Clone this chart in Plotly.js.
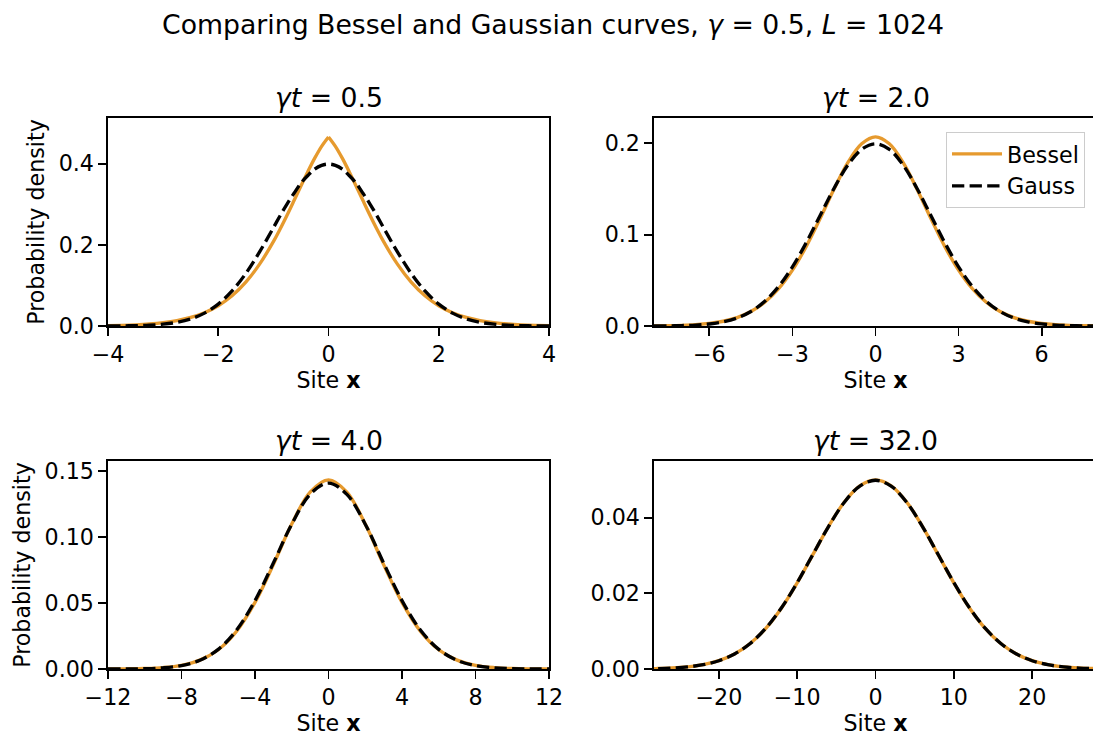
<!DOCTYPE html>
<html>
<head>
<meta charset="utf-8">
<script src="https://cdn.plot.ly/plotly-3.0.1.min.js"></script>
<style>
html, body { margin: 0; padding: 0; overflow: hidden; background: #fff; }
#chart { width: 1100px; height: 736px; }
</style>
</head>
<body>
<div id="chart"></div>
<script>
// ---- Data ----
const subplotTitles = ["<i>γt</i> = 0.5", "<i>γt</i> = 2.0", "<i>γt</i> = 4.0", "<i>γt</i> = 32.0"];

// γt = 0.5
const x1 = [-4,-3.75,-3.5,-3.25,-3,-2.75,-2.5,-2.25,-2,-1.75,-1.5,-1.25,-1,-0.875,-0.75,-0.625,-0.5,-0.375,-0.25,-0.125,0,
            0.125,0.25,0.375,0.5,0.625,0.75,0.875,1,1.25,1.5,1.75,2,2.25,2.5,2.75,3,3.25,3.5,3.75,4];
const bessel1 = [0.00101,0.00174,0.00295,0.00495,0.00816,0.01321,0.02101,0.03274,0.04994,0.07439,0.10798,0.15228,0.20791,0.23968,0.27359,0.30898,0.34495,0.38028,0.41344,0.44263,0.46576,
                 0.44263,0.41344,0.38028,0.34495,0.30898,0.27359,0.23968,0.20791,0.15228,0.10798,0.07439,0.04994,0.03274,0.02101,0.01321,0.00816,0.00495,0.00295,0.00174,0.00101];
const gauss1 = [0.00013,0.00035,0.00087,0.00203,0.00443,0.00909,0.01753,0.03174,0.05399,0.08628,0.12952,0.18265,0.24197,0.27245,0.30114,0.32713,0.35207,0.37073,0.38667,0.39585,0.39894,
                0.39585,0.38667,0.37073,0.35207,0.32713,0.30114,0.27245,0.24197,0.18265,0.12952,0.08628,0.05399,0.03174,0.01753,0.00909,0.00443,0.00203,0.00087,0.00035,0.00013];

// γt = 2.0
const x2 = [-8,-7.5,-7,-6.5,-6,-5.5,-5,-4.5,-4,-3.5,-3,-2.5,-2,-1.5,-1,-0.5,0,
            0.5,1,1.5,2,2.5,3,3.5,4,4.5,5,5.5,6,6.5,7,7.5,8];
const bessel2 = [0.00018,0.00037,0.00076,0.00149,0.00283,0.00520,0.00924,0.01580,0.02594,0.04076,0.06112,0.08714,0.11763,0.14969,0.17875,0.19940,0.20700,
                 0.19940,0.17875,0.14969,0.11763,0.08714,0.06112,0.04076,0.02594,0.01580,0.00924,0.00520,0.00283,0.00149,0.00076,0.00037,0.00018];
const gauss2 = [0.00007,0.00018,0.00044,0.00101,0.00222,0.00455,0.00876,0.01587,0.02700,0.04314,0.06476,0.09133,0.12099,0.15057,0.17603,0.19333,0.19947,
                0.19333,0.17603,0.15057,0.12099,0.09133,0.06476,0.04314,0.02700,0.01587,0.00876,0.00455,0.00222,0.00101,0.00044,0.00018,0.00007];

// γt = 4.0
const x3 = [-12,-11,-10,-9,-8,-7,-6,-5,-4,-3,-2,-1,0,1,2,3,4,5,6,7,8,9,10,11,12];
const bessel3 = [0.00004,0.00013,0.00038,0.00109,0.00283,0.00674,0.01463,0.02869,0.05050,0.07919,0.10990,0.13414,0.14343,
                 0.13414,0.10990,0.07919,0.05050,0.02869,0.01463,0.00674,0.00283,0.00109,0.00038,0.00013,0.00004];
const gauss3 = [0.00002,0.00007,0.00027,0.00089,0.00258,0.00660,0.01487,0.02957,0.05189,0.08037,0.10985,0.13250,0.14105,
                0.13250,0.10985,0.08037,0.05189,0.02957,0.01487,0.00660,0.00258,0.00089,0.00027,0.00007,0.00002];

// γt = 32.0
const x4 = [-30,-28,-26,-24,-22,-20,-18,-16,-14,-12,-10,-8,-6,-4,-2,0,2,4,6,8,10,12,14,16,18,20,22,24,26,28,30];
const bessel4 = [0.000047,0.000115,0.000262,0.000565,0.001148,0.002198,0.003963,0.006727,0.010743,0.016132,0.022772,0.030206,0.037640,0.044052,0.048416,0.049965,
                 0.048416,0.044052,0.037640,0.030206,0.022772,0.016132,0.010743,0.006727,0.003963,0.002198,0.001148,0.000565,0.000262,0.000115,0.000047];
const gauss4 = [0.000044,0.000109,0.000254,0.000554,0.001137,0.002191,0.003967,0.006749,0.010785,0.016190,0.022831,0.030246,0.037642,0.044008,0.048334,0.049868,
                0.048334,0.044008,0.037642,0.030246,0.022831,0.016190,0.010785,0.006749,0.003967,0.002191,0.001137,0.000554,0.000254,0.000109,0.000044];

const xTicks = [[-4,-2,0,2,4],[-6,-3,0,3,6],[-12,-8,-4,0,4,8,12],[-20,-10,0,10,20]];
const yTicks = [[0,0.2,0.4],[0,0.1,0.2],[0,0.05,0.10,0.15],[0,0.02,0.04]];

// ---- Styling ----
const ORANGE = '#e69a2e';
const FONT = 'DejaVu Sans, Liberation Sans, sans-serif';
const W = 1100, H = 736;
const LW = 3.33;
const DASH = '12.3px,5.3px';
const FS = 22.2, FT = 26.7;

const traces = [];
function addPair(xs, bs, gs, i) {
  const n = i === 0 ? '' : String(i+1);
  if (i === 0) {
    // Bessel curve has a cusp at x = 0: draw each side as its own smooth piece
    const mid = xs.indexOf(0);
    traces.push({x: xs.slice(0, mid+1), y: bs.slice(0, mid+1), type:'scatter', mode:'lines', name:'Bessel',
      line:{color:ORANGE, width:LW, shape:'spline'}, xaxis:'x', yaxis:'y', showlegend:false});
    traces.push({x: xs.slice(mid), y: bs.slice(mid), type:'scatter', mode:'lines', name:'Bessel',
      line:{color:ORANGE, width:LW, shape:'spline'}, xaxis:'x', yaxis:'y', showlegend:false});
  } else {
    traces.push({x: xs, y: bs, type:'scatter', mode:'lines', name:'Bessel',
      line:{color:ORANGE, width:LW, shape:'spline'}, xaxis:'x'+n, yaxis:'y'+n, showlegend: i===1});
  }
  traces.push({x: xs, y: gs, type:'scatter', mode:'lines', name:'Gauss',
    line:{color:'black', width:LW, dash:DASH, shape:'spline'}, xaxis:'x'+n, yaxis:'y'+n, showlegend: i===1});
}
addPair(x1, bessel1, gauss1, 0);
addPair(x2, bessel2, gauss2, 1);
addPair(x3, bessel3, gauss3, 2);
addPair(x4, bessel4, gauss4, 3);

const colX = [[108,549],[654,1097]];
const rowY = [[118,326],[461,669]];
const xRanges = [[-4,4],[-8,8],[-12,12],[-28.28,28.28]];
const yRanges = [[0,0.5124],[0,0.2277],[0,0.15777],[0,0.05496]];
const yFormats = ['.1f','.1f','.2f','.2f'];

function axBase() {
  return {
    showline:true, mirror:true, linecolor:'black', linewidth:1.78,
    ticks:'outside', ticklen:7.8, tickwidth:1.78, tickcolor:'black',
    showgrid:false, zeroline:false,
    tickfont:{family:FONT, size:FS, color:'black'}
  };
}

const layout = {
  width: W, height: H,
  margin:{l:0,r:0,t:0,b:0},
  paper_bgcolor:'white', plot_bgcolor:'white',
  font:{family:FONT, color:'black'},
  title:{text:'Comparing Bessel and Gaussian curves, <i>γ</i> = 0.5, <i>L</i> = 1024',
         x:553/W, xanchor:'center', y:1-25/H, yanchor:'middle',
         font:{family:FONT, size:FT, color:'black'}},
  showlegend:true,
  legend:{x:1085/W, xanchor:'right', y:1-132/H, yanchor:'top',
          bgcolor:'rgba(255,255,255,0.8)', bordercolor:'#cccccc', borderwidth:1,
          font:{family:FONT, size:FS, color:'black'}, itemwidth:50, tracegroupgap:0},
  annotations:[]
};

for (let i=0;i<4;i++) {
  const n = i === 0 ? '' : String(i+1);
  const c = colX[i%2], r = rowY[Math.floor(i/2)];
  const xa = axBase();
  xa.domain = [c[0]/W, c[1]/W];
  xa.anchor = 'y'+n;
  xa.range = xRanges[i];
  xa.tickmode = 'array'; xa.tickvals = xTicks[i];
  xa.title = {text:'Site <b>x</b>', font:{family:FONT, size:FS, color:'black'}, standoff:6};
  const ya = axBase();
  ya.domain = [1-r[1]/H, 1-r[0]/H];
  ya.anchor = 'x'+n;
  ya.range = yRanges[i];
  ya.tickmode = 'array'; ya.tickvals = yTicks[i]; ya.tickformat = yFormats[i];
  if (i%2 === 0) {
    ya.title = {text:'Probability density', font:{family:FONT, size:FS, color:'black'}, standoff:8};
  }
  layout['xaxis'+n] = xa;
  layout['yaxis'+n] = ya;
  layout.annotations.push({
    text: subplotTitles[i], showarrow:false,
    xref:'paper', yref:'paper',
    x:(c[0]+c[1])/2/W, xanchor:'center',
    y:1-(r[0]-21)/H, yanchor:'middle',
    font:{family:FONT, size:FT, color:'black'}
  });
}

Plotly.newPlot('chart', traces, layout, {displayModeBar:false, staticPlot:true});
</script>
</body>
</html>
